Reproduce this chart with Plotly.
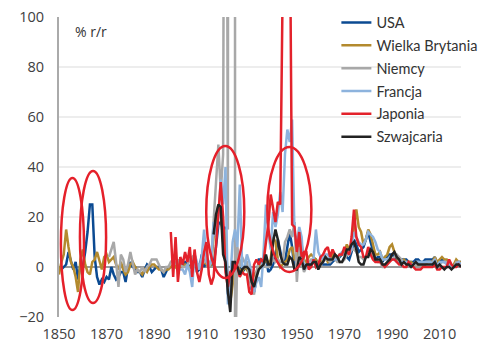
import plotly.graph_objects as go

# ---------------- data: annual inflation, % y/y ----------------
usa_start = 1850
usa_infl = [
    0, -1, 0, 1, 6, 2, -1, 2, -5, 1,
    0, 6, 14, 25, 25, 4, -4, -7, -5, -6,
    -4, -5, 0, -3, -5, -4, -2, -2, -6, 0,
    2, 0, 0, -2, -2, -4, -1, 1, 0, -2,
    -1, 0, 0, -1, -4, -2, 0, 0, 0, 0,
    1, 1, 1, 2, 1, 0, 2, 5, -2, -1,
    5, 0, 2, 2, 1, 1, 8, 17, 18, 15,
    16, -11, -6, 2, 0, 2, 1, -2, -1, 0,
    -2, -9, -10, -5, 3, 3, 1, 4, -2, -1,
    1, 5, 11, 6, 2, 2, 8, 14, 8, -1,
    1, 8, 2, 1, 0, 0, 1, 3, 3, 1,
    2, 1, 1, 1, 1, 2, 3, 3, 4, 5,
    6, 4, 3, 6, 11, 9, 6, 7, 8, 11,
    14, 10, 6, 3, 4, 4, 2, 4, 4, 5,
    5, 4, 3, 3, 3, 3, 3, 2, 2, 2,
    3, 3, 2, 2, 3, 3, 3, 3, 4, 0,
    2, 3, 2, 2, 2, 0, 1, 2, 2, 2,
]

uk_start = 1850
uk_infl = [
    -3, 2, 5, 15, 8, 2, 0, -4, -10, 3,
    7, 1, -2, -3, 2, 3, 6, 2, -1, 4,
    5, 2, 3, 4, 1, -1, 2, -1, -3, -2,
    1, 2, 0, -1, -2, -3, -1, -2, 0, 1,
    1, 0, -1, -1, -2, -1, -1, 0, 1, 0,
    2, 0, 0, 1, 0, 0, 1, 2, 0, 1,
    1, 2, 1, 0, 1, 12, 18, 25, 22, 10,
    15, -9, -14, -6, 0, 0, -1, -2, 0, -1,
    -3, -6, -3, -2, 0, 1, 1, 4, 1, 3,
    12, 10, 3, 0, 1, 2, 3, 7, 8, 3,
    3, 9, 9, 3, 2, 4, 5, 4, 3, 1,
    1, 3, 4, 2, 3, 5, 4, 2, 5, 5,
    6, 9, 7, 9, 16, 23, 16, 14, 9, 11,
    15, 13, 9, 5, 5, 6, 3, 4, 5, 8,
    9, 6, 4, 2, 2, 3, 2, 2, 2, 1,
    1, 1, 1, 1, 1, 2, 2, 2, 4, 2,
    3, 4, 3, 3, 1, 0, 1, 3, 2, 2,
]

de_start = 1871
de_infl = [
    4, 7, 10, 2, -8, 5, 3, -2, 1,
    6, 1, -3, -1, -2, 0, -2, 0, 1, 3,
    3, 3, 1, -1, -2, 0, 0, 2, 3, 1,
    3, 1, 0, 0, 1, 3, 4, 2, 1, 1,
    2, 2, 4, 1, 3, 20, 35, 49, 30, 45,
    400, 15, 2000, 1000000, -45, 8, 0, 4, 2, 2,
    -4, -8, -11, -2, 2, 1, 1, 0, 0, 1,
    3, 2, 3, 2, 2, 10, 12, 15, 12, 18,
    -6, 8, 2, -2, 0, 2, 3, 2, 2, 1,
    1, 2, 3, 3, 2, 3, 4, 2, 2, 2,
    3, 5, 5, 7, 7, 6, 4, 4, 3, 4,
    5, 6, 5, 3, 2, 2, 0, 0, 1, 3,
    3, 4, 5, 4, 3, 2, 1, 2, 1, 1,
    1, 2, 1, 1, 2, 2, 2, 2, 3, 0,
    1, 2, 2, 2, 1, 0, 0, 2, 2, 1,
]

fr_start = 1900
fr_infl = [
    0, -1, -1, -3, 1, -2, -8, 5, 2, -1,
    4, 15, 2, 0, 2, 18, 12, 20, 35, 25,
    40, -15, -5, 10, 15, 8, 33, 0, 0, 5,
    2, -3, -10, -6, -4, -8, 6, 25, 14, 7,
    22, 16, 21, 30, 22, 45, 55, 50, 59, 13,
    10, 16, 12, -1, 0, 1, 2, 3, 15, 6,
    4, 3, 5, 5, 3, 3, 3, 3, 5, 6,
    5, 6, 6, 7, 14, 12, 10, 9, 9, 11,
    14, 13, 12, 10, 7, 6, 3, 3, 3, 4,
    3, 3, 2, 2, 2, 2, 2, 1, 1, 1,
    2, 2, 2, 2, 2, 2, 2, 1, 3, 0,
    2, 2, 2, 1, 1, 0, 0, 1, 2, 1,
]

jp_start = 1897
jp_infl = [
    14, -4, 12,
    -6, 4, 1, 6, 2, 8, -4, 7, -2, -6,
    -1, 6, 10, -3, -7, -4, 8, 22, 34, 20,
    -2, -8, -2, -1, 1, 0, -4, -2, -3, -3,
    -10, -11, 1, 3, 1, 3, 2, 10, 17, 29,
    23, 18, 26, 25, 110, 300, 400, 150, 17, 16,
    6, 14, 4, 6, 6, -1, 0, 3, 0, 1,
    4, 5, 7, 8, 4, 7, 5, 4, 5, 5,
    8, 6, 5, 12, 23, 12, 9, 8, 4, 4,
    8, 5, 3, 2, 2, 2, 1, 0, 1, 2,
    3, 3, 2, 1, 1, 0, 0, 2, 1, 0,
    -1, -1, -1, 0, 0, 0, 0, 0, 1, -1,
    -1, 0, 0, 0, 3, 1, 0, 0, 1, 0,
]

ch_start = 1915
ch_infl = [
    13, 21, 25, 24, 5,
    2, -10, -18, 2, 2, 0, -3, -1, 0, 0,
    -1, -6, -8, -4, -1, 0, 1, 5, 1, 1,
    10, 15, 11, 5, 2, 1, 1, 4, 3, -1,
    -1, 4, 3, -1, 1, 1, 1, 2, 2, -1,
    1, 2, 4, 3, 3, 3, 5, 4, 2, 2,
    4, 7, 7, 9, 10, 7, 2, 1, 1, 4,
    4, 7, 6, 3, 3, 3, 1, 1, 2, 3,
    5, 6, 4, 3, 1, 2, 1, 1, 0, 1,
    2, 1, 1, 1, 1, 1, 1, 1, 2, 0,
    1, 0, -1, 0, 0, -1, 0, 1, 1, 0,
]

series_names = ["USA", "Wielka Brytania", "Niemcy", "Francja", "Japonia", "Szwajcaria"]
series_starts = [usa_start, uk_start, de_start, fr_start, jp_start, ch_start]
series_values = [usa_infl, uk_infl, de_infl, fr_infl, jp_infl, ch_infl]
series_colors = ["#0b4a92", "#b38a2e", "#a8a8a8", "#8db3dd", "#e3222b", "#222222"]

x_ticks = [1850, 1870, 1890, 1910, 1930, 1950, 1970, 1990, 2010]
y_ticks = [-20, 0, 20, 40, 60, 80, 100]

# highlighted episodes (ellipses): (year from, year to, value from, value to)
highlights = [
    (1850.8, 1860.5, -17.2, 35.6),
    (1858.8, 1869.8, -14.4, 38.4),
    (1911.9, 1927.9, -4.4, 48.4),
    (1937.6, 1956.1, -2.0, 48.0),
]

fig = go.Figure()
for name, start, vals, col in zip(series_names, series_starts, series_values, series_colors):
    yrs = list(range(start, start + len(vals)))
    fig.add_trace(go.Scatter(
        x=yrs, y=vals, mode="lines", name=name, legendgroup=name,
        line=dict(color=col, width=2.5),
    ))

for x0, x1, y0, y1 in highlights:
    fig.add_shape(type="circle", xref="x", yref="y", x0=x0, x1=x1, y0=y0, y1=y1,
                  line=dict(color="#e5202a", width=2.5), layer="above")

fig.add_annotation(text="% r/r", xref="paper", yref="paper", x=0.08, y=0.953,
                   showarrow=False, xanchor="center", yanchor="middle",
                   font=dict(family="Open Sans", size=14, color="#333333"))

fig.update_layout(
    width=486, height=342,
    margin=dict(l=59, r=25, t=17, b=25, autoexpand=False),
    paper_bgcolor="white", plot_bgcolor="white",
    showlegend=True,
    legend=dict(x=0.69, y=1.035, xanchor="left", yanchor="top",
                bgcolor="rgba(0,0,0,0)", tracegroupgap=1,
                font=dict(family="Lato", size=14.5, color="#333333")),
    font=dict(family="Open Sans", size=14, color="#404040"),
)
fig.update_xaxes(range=[1850, 2019], tickvals=x_ticks, showgrid=False, zeroline=False,
                 showline=False, ticks="", ticklabelstandoff=6, automargin=False,
                 tickfont=dict(family="Open Sans", size=14.5, color="#404040"))
fig.update_yaxes(range=[-20, 100], tickvals=y_ticks, showgrid=True, gridcolor="#ededed",
                 gridwidth=1.5, zeroline=True, zerolinecolor="#999999", zerolinewidth=1.5,
                 showline=True, linecolor="#aaaaaa", linewidth=2, ticks="",
                 ticklabelstandoff=10, automargin=False,
                 tickfont=dict(family="Open Sans", size=14.5, color="#404040"))

fig.write_html("out.html")
